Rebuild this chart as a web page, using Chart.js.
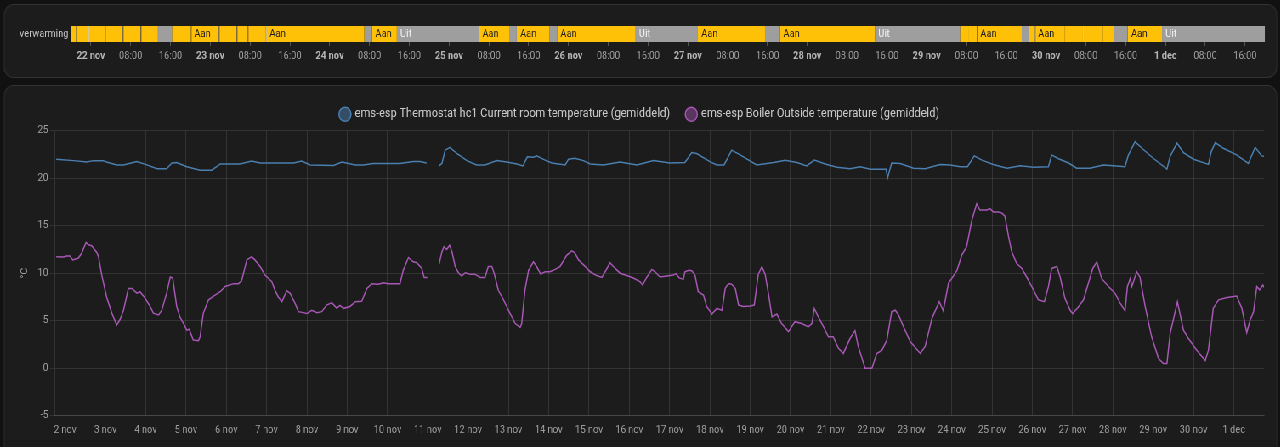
<!DOCTYPE html>
<html>
<head>
<meta charset="utf-8">
<script src="https://cdn.jsdelivr.net/npm/chart.js@4.4.0/dist/chart.umd.min.js"></script>
<style>
html, body { margin: 0; padding: 0; background: #111111; width: 1280px; height: 447px; overflow: hidden; }
#wrap { position: absolute; left: 0; top: 0; width: 1506px; height: 447px; transform: scaleX(0.85); transform-origin: 0 0; }
.card { position: absolute; background: #1c1c1c; border: 1px solid rgba(225,225,225,0.12); border-radius: 12px; box-sizing: border-box; }
canvas { position: absolute; left: 0; }
</style>
</head>
<body>
<div id="wrap">
  <div class="card" style="left:3.5px; top:3.5px; width:1499px; height:74px;"></div>
  <div class="card" style="left:3.5px; top:85px; width:1499px; height:400px;"></div>
  <canvas id="timeline" width="1506" height="80" style="top:0"></canvas>
  <canvas id="temps" width="1506" height="362" style="top:85px"></canvas>
</div>
<script>
// timeline: hours since 22 nov 00:00
const timelineDays = ['22 nov', '23 nov', '24 nov', '25 nov', '26 nov', '27 nov', '28 nov', '29 nov', '30 nov', '1 dec'];
const segStart = [-4, -3, -0.5, 2.8, 6.4, 10, 13.5, 16.3, 20.1, 25.7, 29.3, 31.5, 35.2, 55, 56.5, 61.5, 78, 84.2, 85.6, 92.2,
  93.7, 109.5, 122, 135.5, 138.5, 157.6, 174.7, 176.5, 178.1, 187.1, 188.5, 189.7, 195.8, 199.4, 203.2, 205.6, 208.4, 215.3];
const segState = ['Aan', 'Aan', 'Aan', 'Aan', 'Aan', 'Aan', 'Uit', 'Aan', 'Aan', 'Aan', 'Aan', 'Aan', 'Aan', 'Uit', 'Aan', 'Uit', 'Aan', 'Uit', 'Aan', 'Uit',
  'Aan', 'Uit', 'Aan', 'Uit', 'Aan', 'Uit', 'Aan', 'Aan', 'Aan', 'Uit', 'Aan', 'Aan', 'Aan', 'Aan', 'Aan', 'Uit', 'Aan', 'Uit'];
const timelineEnd = 236;

// temperatures: days since 2 nov 00:00
const dayLabels = ['2 nov', '3 nov', '4 nov', '5 nov', '6 nov', '7 nov', '8 nov', '9 nov', '10 nov', '11 nov', '12 nov', '13 nov',
  '14 nov', '15 nov', '16 nov', '17 nov', '18 nov', '19 nov', '20 nov', '21 nov', '22 nov', '23 nov', '24 nov', '25 nov',
  '26 nov', '27 nov', '28 nov', '29 nov', '30 nov', '1 dec'];

const roomX = [-0.22, 0.21, 0.54, 0.70, 0.95, 1.03, 1.28, 1.45, 1.78, 2.03, 2.28, 2.52, 2.65, 2.77, 3.02, 3.35, 3.64, 3.85, 4.34, 4.63,
  4.84, 5.67, 5.87, 6.08, 6.66, 6.87, 7.20, 7.40, 7.65, 8.31, 8.64, 8.81, 8.97, 9.12, 9.28, 9.35, 9.43, 9.55, 9.72, 9.97,
  10.21, 10.42, 10.71, 10.96, 11.21, 11.36, 11.47, 11.62, 11.70, 11.91, 12.08, 12.41, 12.49, 12.65, 12.86, 13.03, 13.36, 13.77, 14.19, 14.60,
  15.01, 15.38, 15.55, 15.67, 16.00, 16.17, 16.35, 16.54, 16.75, 17.16, 17.58, 17.87, 18.16, 18.40, 18.59, 18.86, 19.15, 19.48, 19.73, 19.98,
  20.37, 20.41, 20.51, 20.72, 21.05, 21.34, 21.71, 21.96, 22.21, 22.39, 22.56, 22.75, 23.03, 23.37, 23.70, 24.03, 24.40, 24.48, 24.65, 24.90,
  25.10, 25.43, 25.76, 26.01, 26.30, 26.38, 26.55, 26.72, 27.00, 27.34, 27.42, 27.59, 27.75, 28.00, 28.37, 28.44, 28.54, 28.74, 29.07, 29.36,
  29.53, 29.69, 29.75];
const roomT = [22.0, 21.85, 21.7, 21.85, 21.85, 21.7, 21.4, 21.4, 21.75, 21.4, 21.0, 21.0, 21.6, 21.65, 21.2, 20.85, 20.85, 21.5, 21.5, 21.8,
  21.6, 21.6, 21.8, 21.4, 21.35, 21.7, 21.4, 21.4, 21.55, 21.55, 21.75, 21.75, 21.6, null, 21.3, 21.55, 22.95, 23.25, 22.6, 21.85,
  21.4, 21.4, 21.85, 21.7, 21.5, 21.3, 22.25, 22.2, 22.35, 21.9, 21.6, 21.4, 22.0, 22.1, 21.85, 21.5, 21.4, 21.7, 21.4, 21.85,
  21.6, 21.65, 22.7, 22.6, 21.75, 21.4, 21.4, 22.95, 22.45, 21.4, 21.65, 21.9, 21.65, 21.3, 21.9, 21.5, 21.15, 21.0, 21.2, 20.95,
  20.95, 20.05, 21.6, 21.55, 21.05, 21.0, 21.45, 21.4, 21.2, 21.2, 22.35, 21.9, 21.45, 21.05, 21.3, 21.15, 21.2, 22.45, 22.05, 21.6,
  21.05, 21.05, 21.4, 21.3, 21.2, 22.4, 23.85, 23.15, 22.1, 20.95, 22.3, 23.7, 22.7, 22.0, 21.45, 22.8, 23.75, 23.15, 22.45, 21.55,
  23.25, 22.35, 22.3];

const outX = [-0.22, -0.04, 0.04, 0.12, 0.19, 0.33, 0.41, 0.52, 0.58, 0.66,
  0.79, 0.83, 0.91, 1.03, 1.16, 1.28, 1.36, 1.45, 1.57, 1.66,
  1.78, 1.86, 1.99, 2.11, 2.19, 2.32, 2.40, 2.52, 2.61, 2.67,
  2.77, 2.85, 2.94, 3.02, 3.08, 3.18, 3.31, 3.35, 3.43, 3.56,
  3.72, 3.85, 3.97, 4.18, 4.30, 4.38, 4.51, 4.63, 4.71, 4.84,
  4.96, 5.13, 5.21, 5.29, 5.38, 5.50, 5.58, 5.71, 5.79, 5.91,
  6.00, 6.12, 6.25, 6.37, 6.49, 6.62, 6.74, 6.82, 6.91, 7.07,
  7.20, 7.36, 7.49, 7.61, 7.77, 7.90, 8.02, 8.19, 8.31, 8.39,
  8.52, 8.64, 8.73, 8.85, 8.91, 8.99, 9.12, 9.28, 9.35, 9.40,
  9.47, 9.54, 9.60, 9.68, 9.76, 9.84, 9.93, 10.05, 10.17, 10.30,
  10.42, 10.50, 10.59, 10.65, 10.75, 10.88, 11.00, 11.17, 11.29, 11.33,
  11.41, 11.50, 11.62, 11.70, 11.80, 11.91, 12.03, 12.16, 12.28, 12.45,
  12.57, 12.65, 12.74, 12.86, 13.03, 13.19, 13.32, 13.40, 13.52, 13.65,
  13.77, 13.94, 14.10, 14.27, 14.33, 14.43, 14.56, 14.64, 14.76, 14.93,
  15.09, 15.16, 15.24, 15.34, 15.38, 15.47, 15.55, 15.63, 15.71, 15.84,
  15.92, 16.05, 16.17, 16.30, 16.38, 16.46, 16.54, 16.63, 16.71, 16.83,
  17.00, 17.10, 17.20, 17.29, 17.37, 17.45, 17.54, 17.66, 17.78, 17.95,
  18.11, 18.28, 18.44, 18.53, 18.59, 18.69, 18.82, 18.94, 19.06, 19.19,
  19.31, 19.48, 19.60, 19.68, 19.85, 20.02, 20.14, 20.27, 20.39, 20.51,
  20.60, 20.68, 20.80, 20.97, 21.22, 21.34, 21.51, 21.69, 21.79, 21.92,
  22.00, 22.13, 22.25, 22.37, 22.50, 22.62, 22.70, 22.87, 22.95, 23.03,
  23.16, 23.24, 23.32, 23.41, 23.49, 23.61, 23.74, 23.86, 24.01, 24.15,
  24.30, 24.40, 24.48, 24.61, 24.69, 24.81, 24.94, 25.00, 25.14, 25.27,
  25.39, 25.50, 25.60, 25.72, 25.89, 26.05, 26.18, 26.30, 26.36, 26.43,
  26.47, 26.59, 26.67, 26.80, 26.96, 27.13, 27.25, 27.34, 27.42, 27.60,
  27.75, 27.87, 28.08, 28.29, 28.37, 28.49, 28.62, 28.83, 29.07, 29.20,
  29.32, 29.40, 29.49, 29.57, 29.64, 29.72, 29.75];
const outT = [11.74, 11.7, 11.8, 11.8, 11.4, 11.6, 12.1, 13.25, 13.0, 12.9,
  12.15, 11.7, 9.8, 7.5, 5.8, 4.55, 5.1, 6.1, 8.4, 8.4,
  7.9, 8.05, 7.35, 6.5, 5.8, 5.6, 6.1, 7.9, 9.6, 9.5,
  6.5, 5.4, 4.7, 4.0, 4.1, 2.97, 2.9, 3.3, 5.8, 7.2,
  7.7, 8.05, 8.6, 8.9, 8.9, 9.2, 11.4, 11.75, 11.4, 10.7,
  9.8, 9.1, 8.2, 7.5, 7.0, 8.15, 7.9, 6.8, 5.95, 5.85,
  5.75, 6.1, 5.85, 5.95, 6.65, 6.9, 6.3, 6.6, 6.3, 6.5,
  7.0, 7.05, 8.4, 8.9, 8.85, 9.0, 8.9, 8.9, 8.9, 10.3,
  11.65, 11.2, 11.1, 10.5, 9.55, 9.55, null, 10.95, 12.25, 12.8,
  12.5, 12.95, 12.25, 10.7, 10.05, 9.7, 10.05, 9.9, 9.9, 9.55,
  9.55, 10.7, 10.7, 9.95, 8.2, 7.2, 6.1, 4.7, 4.3, 4.7,
  8.2, 10.3, 11.2, 10.7, 9.9, 10.15, 10.15, 10.4, 10.7, 11.9,
  12.35, 12.15, 11.4, 10.9, 10.15, 9.75, 9.55, 10.15, 11.1, 10.5,
  10.0, 9.75, 9.5, 9.1, 8.75, 9.55, 10.4, 10.15, 9.6, 9.7,
  9.8, 9.95, 9.5, 9.35, 10.15, 10.3, 10.25, 9.8, 8.05, 7.7,
  6.5, 5.7, 6.3, 6.1, 8.4, 8.9, 8.85, 8.4, 6.65, 6.5,
  6.55, 6.65, 9.9, 10.7, 9.9, 7.9, 5.4, 5.7, 4.7, 3.85,
  4.9, 4.7, 4.35, 4.7, 6.3, 5.4, 4.35, 3.3, 3.3, 2.1,
  1.55, 3.15, 3.95, 2.3, 0.0, 0.0, 1.55, 1.9, 2.95, 5.95,
  6.1, 5.6, 4.4, 2.8, 1.55, 2.3, 5.25, 7.0, 6.05, 8.95,
  9.45, 10.3, 11.9, 12.8, 15.6, 17.3, 16.65, 16.65, 16.8, 16.45,
  16.45, 16.35, 16.0, 13.85, 12.25, 11.05, 10.5, 9.6, 8.4, 7.2,
  7.0, 8.6, 10.5, 10.7, 9.6, 7.35, 6.1, 5.75, 6.45, 7.2,
  8.95, 10.5, 11.2, 9.45, 8.6, 7.9, 6.85, 6.05, 8.6, 9.45,
  8.6, 10.15, 9.6, 6.5, 3.3, 1.05, 0.5, 0.5, 3.65, 7.0,
  4.0, 3.15, 1.9, 0.8, 1.9, 6.3, 7.2, 7.45, 7.6, 6.3,
  3.75, 5.0, 5.95, 8.6, 8.25, 8.75, 8.5];

Chart.defaults.font.family = 'Roboto';
Chart.defaults.color = '#9e9e9e';

const stateColor = { Aan: '#ffc107', Uit: '#9e9e9e' };
const segEnd = segStart.slice(1).concat([timelineEnd]);

const hourTicks = [];
for (let h = 0; h < timelineEnd; h += 8) hourTicks.push(h);

// text inside segments that are wide enough
const segmentLabels = {
  id: 'segmentLabels',
  afterDatasetsDraw(chart) {
    const ctx = chart.ctx;
    ctx.save();
    ctx.font = '11px Roboto';
    ctx.textBaseline = 'middle';
    chart.data.datasets.forEach((ds, i) => {
      const bar = chart.getDatasetMeta(i).data[0];
      const left = Math.min(bar.x, bar.base);
      const right = Math.max(bar.x, bar.base);
      const txt = segState[i];
      if (right - left < ctx.measureText(txt).width + 8) return;
      ctx.fillStyle = txt === 'Aan' ? '#1f1f1f' : '#f4f4f4';
      ctx.fillText(txt, left + 4, bar.y + 0.5);
    });
    ctx.restore();
  }
};

new Chart(document.getElementById('timeline'), {
  type: 'bar',
  data: {
    labels: ['verwarming'],
    datasets: segStart.map((s, i) => ({
      data: [[s, segEnd[i]]],
      backgroundColor: stateColor[segState[i]],
      borderColor: '#dcc98c',
      borderWidth: (i > 0 && segState[i - 1] === segState[i]) ? { left: 1, right: 0, top: 0, bottom: 0 } : 0,
      borderSkipped: false,
      inflateAmount: 0,
      grouped: false,
      barPercentage: 1,
      categoryPercentage: 1
    }))
  },
  options: {
    indexAxis: 'y',
    responsive: false,
    animation: false,
    events: [],
    layout: { padding: { top: 26, right: 17.8, left: 0, bottom: 0 } },
    plugins: { legend: { display: false }, tooltip: { enabled: false } },
    scales: {
      x: {
        type: 'linear',
        min: -4,
        max: timelineEnd,
        afterBuildTicks: s => { s.ticks = hourTicks.map(h => ({ value: h })); },
        afterFit: s => { s.height = 38; },
        border: { display: false },
        grid: { drawOnChartArea: false, drawTicks: true, tickLength: 4, color: '#555555' },
        ticks: {
          autoSkip: false,
          maxRotation: 0,
          padding: 4,
          color: c => (c.tick && Math.round(c.tick.value) % 24 === 0) ? '#b4b4b4' : '#9e9e9e',
          font: c => ({ size: 11, weight: (c.tick && Math.round(c.tick.value) % 24 === 0) ? 'bold' : 'normal' }),
          callback: v => {
            const h = Math.round(v);
            if (h % 24 === 0) return timelineDays[h / 24];
            return h % 24 === 8 ? '08:00' : '16:00';
          }
        }
      },
      y: {
        type: 'category',
        afterFit: s => { s.width = 83.5; },
        border: { display: false },
        grid: { display: false, drawTicks: false },
        ticks: { padding: 3, color: '#c4c4c4', font: { size: 11 } }
      }
    }
  },
  plugins: [segmentLabels]
});

const temps = new Chart(document.getElementById('temps'), {
  type: 'line',
  data: {
    datasets: [
      {
        label: 'ems-esp Thermostat hc1 Current room temperature (gemiddeld)',
        data: roomX.map((x, i) => ({ x: x, y: roomT[i] })),
        borderColor: '#4a7fb0',
        backgroundColor: 'rgba(74,127,176,0.5)',
        borderWidth: 1.5,
        pointRadius: 0,
        tension: 0,
        spanGaps: false
      },
      {
        label: 'ems-esp Boiler Outside temperature (gemiddeld)',
        data: outX.map((x, i) => ({ x: x, y: outT[i] })),
        borderColor: '#a757b4',
        backgroundColor: 'rgba(152,78,163,0.5)',
        borderWidth: 1.5,
        pointRadius: 0,
        tension: 0,
        spanGaps: false
      }
    ]
  },
  options: {
    responsive: false,
    animation: false,
    events: [],
    layout: { padding: { top: 10, right: 18.9, left: 18.8, bottom: 0 } },
    plugins: {
      legend: {
        labels: {
          usePointStyle: true,
          pointStyle: 'circle',
          boxWidth: 10,
          boxHeight: 10,
          padding: 20,
          color: '#c8c8c8',
          font: { size: 13 }
        }
      },
      tooltip: { enabled: false }
    },
    scales: {
      x: {
        type: 'linear',
        min: -0.25,
        max: 29.75,
        afterBuildTicks: s => { s.ticks = dayLabels.map((d, i) => ({ value: i })); },
        afterFit: s => { s.height = 31.3; },
        border: { color: 'rgba(255,255,255,0.1)' },
        grid: { color: 'rgba(255,255,255,0.1)', drawTicks: false },
        ticks: {
          autoSkip: false,
          maxRotation: 0,
          padding: 8,
          font: { size: 11 },
          callback: v => dayLabels[Math.round(v)]
        }
      },
      y: {
        min: -5,
        max: 25,
        afterFit: s => { s.width = 45.9; },
        title: { display: true, text: '°C', font: { size: 11 }, color: '#9e9e9e' },
        border: { color: 'rgba(255,255,255,0.1)' },
        grid: { color: 'rgba(255,255,255,0.1)', tickLength: 6 },
        ticks: { stepSize: 5, padding: 2, font: { size: 11 } }
      }
    }
  }
});

// line the plot area up with the card layout
temps.options.layout.padding.top += 45.7 - temps.chartArea.top;
temps.update();
</script>
</body>
</html>
